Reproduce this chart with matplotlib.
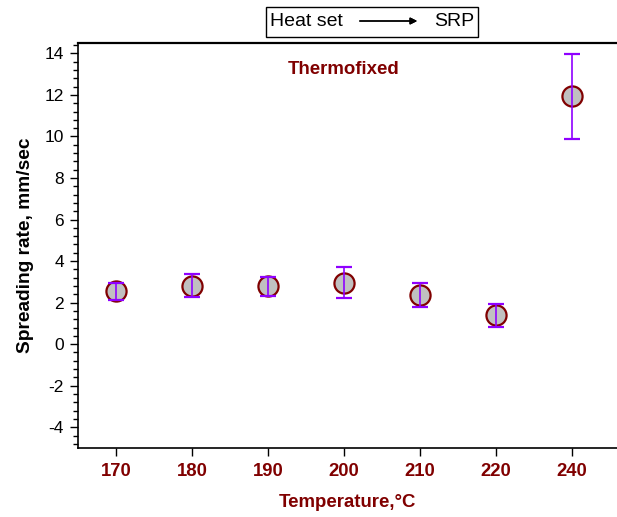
import matplotlib.pyplot as plt
from matplotlib.patches import Rectangle
from matplotlib.ticker import MultipleLocator

plt.rcParams['font.family'] = ['Liberation Sans', 'DejaVu Sans']
plt.rcParams['axes.unicode_minus'] = False

# data
temps = ["170", "180", "190", "200", "210", "220", "240"]
rate = [2.56, 2.80, 2.80, 2.95, 2.37, 1.40, 11.93]
err_low = [0.43, 0.53, 0.48, 0.73, 0.58, 0.58, 2.03]
err_high = [0.39, 0.58, 0.44, 0.77, 0.58, 0.53, 2.03]

dark_red = '#800000'
purple = '#8f00ff'

fig = plt.figure(figsize=(6.17, 5.17), dpi=100)
ax = fig.add_axes([78 / 617, 69 / 517, 539 / 617, 405 / 517])

xs = list(range(len(temps)))
ax.plot(xs, rate, 'o', ms=14.5, mfc='#c0c0c0', mec=dark_red, mew=1.6,
        zorder=3, clip_on=False)
ax.errorbar(xs, rate, yerr=[err_low, err_high], fmt='none', ecolor=purple,
            elinewidth=1.2, capsize=6, capthick=1.6, zorder=4)

ax.set_xlim(-0.5, 6.59)
ax.set_ylim(-5, 14.5)
ax.set_xticks(xs)
ax.set_xticklabels(temps, color=dark_red, fontweight='bold', fontsize=13.3)
ax.yaxis.set_major_locator(MultipleLocator(2))
ax.yaxis.set_minor_locator(MultipleLocator(0.4))
ax.tick_params(axis='y', which='major', length=6, width=1, labelsize=12.5,
               direction='out', pad=4)
ax.tick_params(axis='y', which='minor', length=3.5, width=1, direction='out')
ax.tick_params(axis='x', length=6, width=1, pad=5)

ax.spines['right'].set_visible(False)
ax.spines['top'].set_linewidth(1.6)
ax.spines['left'].set_linewidth(1.2)
ax.spines['bottom'].set_linewidth(1.2)

ax.set_ylabel("Spreading rate, mm/sec", fontweight='bold', fontsize=13.8,
              labelpad=8)
ax.set_xlabel("Temperature,°C", color=dark_red, fontweight='bold',
              fontsize=13.4, labelpad=10)

ax.text(3, 13.2, "Thermofixed", color=dark_red, fontweight='bold',
        fontsize=13.4, ha='center', va='center')

# legend-like box above the plot
W, H = 617, 517
fig.patches.append(Rectangle((266 / W, 1 - 37 / H), 212 / W, 30 / H,
                             transform=fig.transFigure, fill=False,
                             edgecolor='black', linewidth=1))
fig.text(270 / W, 1 - 22 / H, "Heat set", fontsize=14, va='center')
fig.text(474 / W, 1 - 22 / H, "SRP", fontsize=14, va='center', ha='right')
fig.add_artist(plt.annotate("", xy=(420 / W, 1 - 21 / H),
                            xytext=(357 / W, 1 - 21 / H),
                            xycoords='figure fraction',
                            arrowprops=dict(arrowstyle='-|>', color='black',
                                            lw=1, mutation_scale=10)))

fig.savefig("out.png", dpi=100)
